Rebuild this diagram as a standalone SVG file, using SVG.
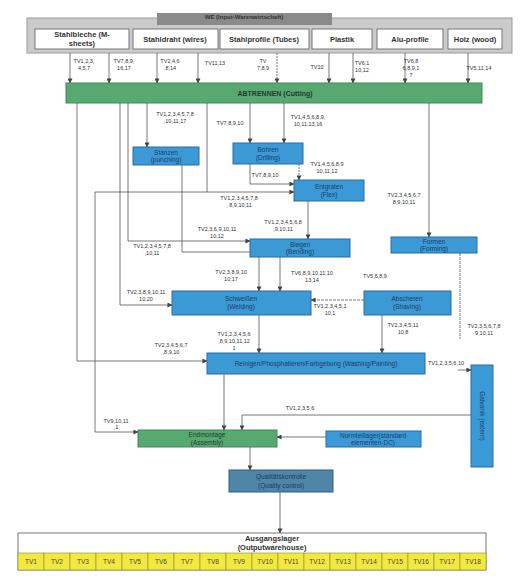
<svg xmlns="http://www.w3.org/2000/svg" width="527" height="580" viewBox="0 0 527 580">
<defs>
<marker id="ah" viewBox="0 0 6 6" refX="5.5" refY="3" markerWidth="5" markerHeight="5" orient="auto" markerUnits="userSpaceOnUse"><path d="M0,0 L6,3 L0,6 z" fill="#444"/></marker>
<style>
.lbl{font-family:"Liberation Sans",Arial,sans-serif;font-size:5.5px;fill:#333;text-anchor:middle}
.box{fill:#3b9ad6;stroke:#2a6da5;stroke-width:1}
.bt{font-family:"Liberation Sans",Arial,sans-serif;font-size:6.5px;fill:#1c3a68;text-anchor:middle}
.src{fill:#fff;stroke:#777;stroke-width:1}
.st{font-family:"Liberation Sans",Arial,sans-serif;font-size:7.5px;font-weight:bold;fill:#333;text-anchor:middle}
.ln{stroke:#555;stroke-width:0.8;fill:none}
.la{stroke:#555;stroke-width:0.8;fill:none;marker-end:url(#ah)}
.cell{fill:#f2e93e;stroke:#8e8a40;stroke-width:0.6}
.ct{font-family:"Liberation Sans",Arial,sans-serif;font-size:6.5px;fill:#444;text-anchor:middle}
</style>
</defs>
<rect width="527" height="580" fill="#fff"/>

<g id="input-warehouse">
<rect x="27" y="18" width="485" height="35" fill="#cbcbcb" stroke="#999" stroke-width="1"/>
<rect x="157" y="13" width="175" height="12" fill="#8a8a8a"/>
<text x="244" y="19" class="st" style="font-size:6px;fill:#333">WE (Input-Warenwirtschaft)</text>
</g>
<g id="stahlbleche"><rect class="src" x="35" y="29" width="94" height="20"/><text class="st" x="82" y="37">Stahlbleche (M-</text><text class="st" x="82" y="46">sheets)</text></g>
<g id="stahldraht"><rect class="src" x="133" y="29" width="85" height="20"/><text class="st" x="175" y="42">Stahldraht (wires)</text></g>
<g id="stahlprofile"><rect class="src" x="220" y="29" width="89" height="20"/><text class="st" x="264" y="42">Stahlprofile (Tubes)</text></g>
<g id="plastik"><rect class="src" x="312" y="29" width="60" height="20"/><text class="st" x="342" y="42">Plastik</text></g>
<g id="aluprofile"><rect class="src" x="377" y="29" width="66" height="20"/><text class="st" x="410" y="42">Alu-profile</text></g>
<g id="holz"><rect class="src" x="448" y="29" width="54" height="20"/><text class="st" x="475" y="42">Holz (wood)</text></g>

<g id="abtrennen"><rect x="66" y="83" width="416" height="20" fill="#58a872" stroke="#3e8a58" stroke-width="1"/><text class="st" x="275" y="96" style="font-size:7px;fill:#1f3d2a">ABTRENNEN (Cutting)</text></g>

<g id="stanzen"><rect class="box" x="133" y="147" width="66" height="18"/><text class="bt" x="166" y="155">Stanzen</text><text class="bt" x="166" y="162">(punching)</text></g>
<g id="bohren"><rect class="box" x="233" y="143" width="70" height="21"/><text class="bt" x="268" y="152">Bohren</text><text class="bt" x="268" y="160">(Drilling)</text></g>
<g id="entgraten"><rect class="box" x="294" y="180" width="70" height="21"/><text class="bt" x="329" y="189">Entgraten</text><text class="bt" x="329" y="197">(Flex)</text></g>
<g id="biegen"><rect class="box" x="250" y="239" width="100" height="18"/><text class="bt" x="300" y="247">Biegen</text><text class="bt" x="300" y="254">(Bending)</text></g>
<g id="formen"><rect class="box" x="391" y="237" width="86" height="16"/><text class="bt" x="434" y="244">Formen</text><text class="bt" x="434" y="251">(Forming)</text></g>
<g id="schweissen"><rect class="box" x="172" y="291" width="139" height="24"/><text class="bt" x="241" y="301">Schweißen</text><text class="bt" x="241" y="309">(Welding)</text></g>
<g id="abscheren"><rect class="box" x="364" y="291" width="87" height="24"/><text class="bt" x="407" y="301">Abscheren</text><text class="bt" x="407" y="309">(Shaving)</text></g>
<g id="reinigen"><rect class="box" x="207" y="353" width="218" height="21"/><text class="bt" x="316" y="366">Reinigen/Phosphatieren/Farbgebung (Washing/Painting)</text></g>
<g id="galvanik"><rect class="box" x="471" y="365" width="22" height="102"/><text class="bt" transform="translate(482,416) rotate(90)" y="2">Galvanik (extern)</text></g>
<g id="endmontage"><rect x="138" y="430" width="139" height="17" fill="#58a872" stroke="#3e8a58" stroke-width="1"/><text class="bt" x="207" y="437" style="fill:#1f3d2a">Endmontage</text><text class="bt" x="207" y="445" style="fill:#1f3d2a">(Assembly)</text></g>
<g id="normteillager"><rect class="box" x="326" y="431" width="95" height="16"/><text class="bt" x="373" y="438">Normteillager(standard</text><text class="bt" x="373" y="445">elementen-DC)</text></g>
<g id="qualitaet"><rect x="229" y="470" width="104" height="22" fill="#4f86a6" stroke="#2f5f80" stroke-width="1"/><text class="bt" x="281" y="479">Qualitätskontrolle</text><text class="bt" x="281" y="488">(Quality control)</text></g>

<g id="ausgangslager">
<rect x="18" y="533" width="468" height="37" fill="#fff" stroke="#777" stroke-width="1"/>
<text class="st" x="272" y="541">Ausgangslager</text>
<text class="st" x="272" y="550">(Outputwarehouse)</text>
<rect class="cell" x="18" y="553" width="26" height="17"/><text class="ct" x="31" y="564">TV1</text>
<rect class="cell" x="44" y="553" width="26" height="17"/><text class="ct" x="57" y="564">TV2</text>
<rect class="cell" x="70" y="553" width="26" height="17"/><text class="ct" x="83" y="564">TV3</text>
<rect class="cell" x="96" y="553" width="26" height="17"/><text class="ct" x="109" y="564">TV4</text>
<rect class="cell" x="122" y="553" width="26" height="17"/><text class="ct" x="135" y="564">TV5</text>
<rect class="cell" x="148" y="553" width="26" height="17"/><text class="ct" x="161" y="564">TV6</text>
<rect class="cell" x="174" y="553" width="26" height="17"/><text class="ct" x="187" y="564">TV7</text>
<rect class="cell" x="200" y="553" width="26" height="17"/><text class="ct" x="213" y="564">TV8</text>
<rect class="cell" x="226" y="553" width="26" height="17"/><text class="ct" x="239" y="564">TV9</text>
<rect class="cell" x="252" y="553" width="26" height="17"/><text class="ct" x="265" y="564">TV10</text>
<rect class="cell" x="278" y="553" width="26" height="17"/><text class="ct" x="291" y="564">TV11</text>
<rect class="cell" x="304" y="553" width="26" height="17"/><text class="ct" x="317" y="564">TV12</text>
<rect class="cell" x="330" y="553" width="26" height="17"/><text class="ct" x="343" y="564">TV13</text>
<rect class="cell" x="356" y="553" width="26" height="17"/><text class="ct" x="369" y="564">TV14</text>
<rect class="cell" x="382" y="553" width="26" height="17"/><text class="ct" x="395" y="564">TV15</text>
<rect class="cell" x="408" y="553" width="26" height="17"/><text class="ct" x="421" y="564">TV16</text>
<rect class="cell" x="434" y="553" width="26" height="17"/><text class="ct" x="447" y="564">TV17</text>
<rect class="cell" x="460" y="553" width="26" height="17"/><text class="ct" x="473" y="564">TV18</text>
</g>

<g id="connectors">
<path class="la" d="M70,53 V83"/>
<path class="la" d="M109,53 V83"/>
<path class="la" d="M157,53 V83"/>
<path class="la" d="M198,53 V83"/>
<path class="la" d="M277,53 V83" stroke-dasharray="2,1"/>
<path class="la" d="M329,53 V83"/>
<path class="la" d="M353,53 V83"/>
<path class="la" d="M405,53 V83"/>
<path class="la" d="M468,53 V83"/>

<path class="la" d="M147,103 V147"/>
<path class="la" d="M250,103 V143"/>
<path class="la" d="M284,103 V143"/>
<path class="la" d="M299,164 V180" stroke-dasharray="2,1"/>
<path class="la" d="M250,164 V184 H294"/>
<path class="la" d="M95,192 H294"/>
<path class="ln" d="M207,103 V192"/>
<path class="la" d="M95,192 V432 H138"/>
<path class="la" d="M308,201 V239"/>
<path class="la" d="M128,103 V241 H250"/>
<path class="ln" d="M182,165 V252 H250"/>
<path class="la" d="M429,103 V237"/>
<path class="la" d="M120,103 V305 H172"/>
<path class="la" d="M259,257 V291"/>
<path class="la" d="M280,257 V291"/>
<path class="la" d="M364,300 H311" stroke-dasharray="3,1"/>
<path class="la" d="M77,103 V361 H207"/>
<path class="la" d="M259,315 V353"/>
<path class="la" d="M382,315 V353"/>
<path class="ln" d="M460,253 V339" stroke-dasharray="3,1"/>
<path class="la" d="M458,370 H471"/>
<path class="la" d="M224,374 V430"/>
<path class="la" d="M471,415 H242 V430"/>
<path class="la" d="M326,437 H277"/>
<path class="la" d="M250,447 V470"/>
<path class="la" d="M280,492 V533"/>
</g>

<g id="labels">
<text class="lbl" x="84" y="63">TV1,2,3,</text><text class="lbl" x="84" y="70">4,5,7</text>
<text class="lbl" x="124" y="63">TV7,8,9,</text><text class="lbl" x="124" y="70">16,17</text>
<text class="lbl" x="170" y="63">TV2,4,6</text><text class="lbl" x="170" y="70">,8,14</text>
<text class="lbl" x="215" y="65">TV11,13</text>
<text class="lbl" x="263" y="63">TV</text><text class="lbl" x="263" y="70">7,8,9</text>
<text class="lbl" x="317" y="69">TV10</text>
<text class="lbl" x="362" y="65">TV6,1</text><text class="lbl" x="362" y="72">10,12</text>
<text class="lbl" x="411" y="63">TV6,8</text><text class="lbl" x="411" y="70">6,8,9,1</text><text class="lbl" x="411" y="77">7</text>
<text class="lbl" x="479" y="70">TV5,11,14</text>

<text class="lbl" x="175" y="116">TV1,2,3,4,5,7,8</text><text class="lbl" x="175" y="123">,10,11,17</text>
<text class="lbl" x="230" y="125">TV7,8,9,10</text>
<text class="lbl" x="308" y="119">TV1,4,5,6,8,9,</text><text class="lbl" x="308" y="126">10,11,13,16</text>
<text class="lbl" x="327" y="166">TV1,4,5,6,8,9</text><text class="lbl" x="327" y="173">10,11,12</text>
<text class="lbl" x="265" y="177">TV7,8,9,10</text>
<text class="lbl" x="239" y="200">TV1,2,3,4,5,7,8</text><text class="lbl" x="239" y="207">, 8,9,10,11</text>
<text class="lbl" x="404" y="197">TV2,3,4,5,6,7</text><text class="lbl" x="404" y="204">8,9,10,11</text>
<text class="lbl" x="283" y="224">TV1,2,3,4,5,6,8</text><text class="lbl" x="283" y="231">,9,10,11</text>
<text class="lbl" x="217" y="231">TV2,3,6,9,10,11</text><text class="lbl" x="217" y="238">10,12</text>
<text class="lbl" x="152" y="248">TV1,2,3,4,5,7,8</text><text class="lbl" x="152" y="255">,10,11</text>
<text class="lbl" x="231" y="274">TV2,3,8,9,10</text><text class="lbl" x="231" y="281">10,17</text>
<text class="lbl" x="312" y="275">TV6,8,9,10,11,10</text><text class="lbl" x="312" y="282">13,14</text>
<text class="lbl" x="375" y="278">TV5,6,8,9</text>
<text class="lbl" x="146" y="294">TV2,3,8,9,10,11</text><text class="lbl" x="146" y="301">10,20</text>
<text class="lbl" x="330" y="308">TV1,2,3,4,5,1</text><text class="lbl" x="330" y="315">10,1</text>
<text class="lbl" x="403" y="327">TV2,3,4,5,11</text><text class="lbl" x="403" y="334">10,8</text>
<text class="lbl" x="484" y="328">TV2,3,5,6,7,8</text><text class="lbl" x="484" y="335">9,10,11</text>
<text class="lbl" x="234" y="336">TV1,2,3,4,5,6</text><text class="lbl" x="234" y="343">,8,9,10,11,12</text><text class="lbl" x="234" y="350">1</text>
<text class="lbl" x="171" y="347">TV2,3,4,5,6,7</text><text class="lbl" x="171" y="354">,8,9,10</text>
<text class="lbl" x="446" y="365">TV1,2,3,5,6,10</text>
<text class="lbl" x="300" y="410">TV1,2,3,5,6</text>
<text class="lbl" x="116" y="423">TV9,10,11</text><text class="lbl" x="116" y="429">,1</text>
</g>
</svg>
